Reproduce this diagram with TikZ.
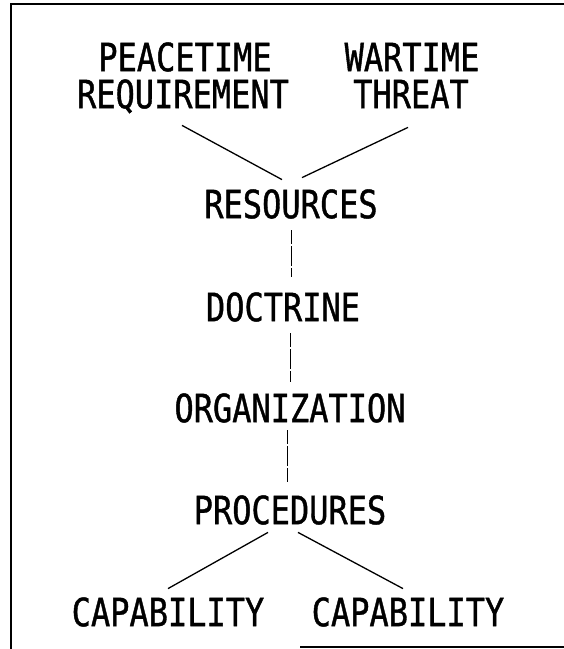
\documentclass[tikz,border=0pt]{standalone}
\usepackage{fontspec}
\newfontfamily\plotfont[FakeStretch=0.82,FakeBold=1]{DejaVu Sans Mono}
\begin{document}
\begin{tikzpicture}[x=1pt,y=-1pt,
  term/.style={font=\plotfont\fontsize{39}{39}\selectfont, inner sep=0pt,
    text height=28.4pt, text depth=0pt, anchor=center},
  link/.style={line width=1.3pt},
  chain/.style={line width=0.8pt, dash pattern=on 14pt off 2pt on 20pt off 2pt},
  frame/.style={line width=1.8pt}]
\useasboundingbox (0,0) rectangle (564,649);

% frame pieces
\coordinate (ftr) at (564,4);
\coordinate (ftl) at (11,4);
\coordinate (fbl) at (11,649);
\coordinate (fbm) at (300,647);
\coordinate (fbr) at (564,647);
\draw[frame] (ftr) -- (ftl) -- (fbl);
\draw[frame] (fbm) -- (fbr);

% terms
\node[term] (peace) at (185,57) {PEACETIME};
\node[term] (req)   at (183,94) {REQUIREMENT};
\node[term] (war)   at (412,57) {WARTIME};
\node[term] (thr)   at (411,94) {THREAT};
\node[term] (res)   at (291,204) {RESOURCES};
\node[term] (doc)   at (283,307) {DOCTRINE};
\node[term] (org)   at (290,408) {ORGANIZATION};
\node[term] (proc)  at (290,510) {PROCEDURES};
\node[term] (capl)  at (168,612) {CAPABILITY};
\node[term] (capr)  at (408,612) {CAPABILITY};

% inputs feeding resources
\draw[link] ([xshift=-1pt,yshift=-17pt]req.south) -- ([xshift=-9pt,yshift=10pt]res.north);
\draw[link] ([xshift=-3pt,yshift=-19pt]thr.south) -- ([xshift=11pt,yshift=12pt]res.north);

% vertical chain
\draw[chain] ([yshift=-12pt]res.south) -- ([yshift=16pt]res.south |- doc.north);
\draw[chain] ([xshift=7pt,yshift=-12pt]doc.south) -- ([xshift=7pt,yshift=12pt]doc.south |- org.north);
\draw[chain] ([xshift=-3pt,yshift=-8pt]org.south) -- ([xshift=-3pt,yshift=13pt]org.south |- proc.north);

% outputs
\draw[link] ([xshift=-22pt,yshift=-8pt]proc.south) -- ([yshift=9pt]capl.north);
\draw[link] ([xshift=8pt,yshift=-8pt]proc.south) -- ([xshift=-5pt,yshift=9pt]capr.north);
\end{tikzpicture}
\end{document}
